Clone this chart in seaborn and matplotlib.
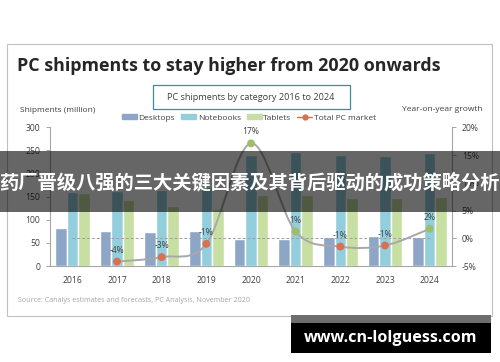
import pandas as pd
import seaborn as sns
import matplotlib.pyplot as plt
from matplotlib.patches import Rectangle, Patch
from matplotlib.lines import Line2D
from matplotlib.path import Path
from matplotlib.patches import PathPatch

# data
years = ['2016', '2017', '2018', '2019', '2020', '2021', '2022', '2023', '2024']
desktops = [82, 76, 74, 76, 58, 58, 62, 64, 63]
notebooks = [160, 162, 165, 170, 240, 247, 240, 237, 244]
tablets = [158, 143, 130, 123, 154, 154, 147, 147, 150]
growth_years = ['2017', '2018', '2019', '2020', '2021', '2022', '2023', '2024']
growth = [-4.2, -3.4, -1.0, 17.1, 1.2, -1.5, -1.3, 1.7]
growth_labels = ['-4%', '-3%', '-1%', '17%', '1%', '-1%', '-1%', '2%']
left_ticks = [0, 50, 100, 150, 200, 250, 300]
right_ticks = [-5, 0, 5, 10, 15, 20]

colors = {'Desktops': '#8DA6C7', 'Notebooks': '#93CEDD', 'Tablets': '#C7DFA3'}
neg_col = '#D9704F'
pos_col = '#9DBD68'
line_col = '#A8A8A8'
txt_col = '#404040'

df = pd.DataFrame({
    'year': years * 3,
    'category': ['Desktops'] * 9 + ['Notebooks'] * 9 + ['Tablets'] * 9,
    'value': desktops + notebooks + tablets,
})

sns.set_style('white')
plt.rcParams['font.family'] = ['Open Sans', 'DejaVu Sans']
plt.rcParams['axes.unicode_minus'] = False

fig = plt.figure(figsize=(5, 3.62), dpi=100)
ax = fig.add_axes([0.1, 1 - 266 / 362, 0.804, (266 - 127.3) / 362])

sns.barplot(data=df, x='year', y='value', hue='category', order=years,
            palette=colors, width=0.77, saturation=1, ax=ax, legend=False)
ax.set_ylim(0, 300)
ax.set_yticks(left_ticks)
ax.set_xlabel('')
ax.set_ylabel('')
for s in ['top', 'right']:
    ax.spines[s].set_visible(False)
for s in ['left', 'bottom']:
    ax.spines[s].set_color('#A6A6A6')
    ax.spines[s].set_linewidth(0.8)
ax.tick_params(axis='y', length=3, width=0.7, color='#A6A6A6', labelsize=6.2, labelcolor=txt_col, pad=4)
ax.tick_params(axis='x', length=0, labelsize=6.2, labelcolor=txt_col, pad=7)
ax.set_xlim(-0.5, len(years) - 0.5)

# growth line on the right axis
ax2 = ax.twinx()
ax2.set_ylim(-5, 20)
ax2.set_yticks(right_ticks)
ax2.set_yticklabels([f'{t}%' for t in right_ticks])
for s in ['top', 'left', 'bottom']:
    ax2.spines[s].set_visible(False)
ax2.spines['right'].set_color('#A6A6A6')
ax2.spines['right'].set_linewidth(0.8)
ax2.tick_params(axis='y', length=3, width=0.7, color='#A6A6A6', labelsize=6.2, labelcolor=txt_col, pad=4)

ax2.hlines(0, 0, len(years) - 1, colors='#A0A0A0', linestyles=(0, (3, 2)), lw=0.7, zorder=2)

gx = [years.index(y) for y in growth_years]
# smooth curve through the points (Catmull-Rom -> bezier)
verts = [(gx[0], growth[0])]
codes = [Path.MOVETO]
n = len(gx)
for i in range(n - 1):
    p0 = (gx[i - 1], growth[i - 1]) if i > 0 else (gx[i], growth[i])
    p1 = (gx[i], growth[i])
    p2 = (gx[i + 1], growth[i + 1])
    p3 = (gx[i + 2], growth[i + 2]) if i + 2 < n else p2
    c1 = (p1[0] + (p2[0] - p0[0]) / 6, p1[1] + (p2[1] - p0[1]) / 6)
    c2 = (p2[0] - (p3[0] - p1[0]) / 6, p2[1] - (p3[1] - p1[1]) / 6)
    verts += [c1, c2, p2]
    codes += [Path.CURVE4] * 3
ax2.add_patch(PathPatch(Path(verts, codes), fill=False, edgecolor=line_col, lw=1.4, zorder=3))

gdf = pd.DataFrame({'x': gx, 'g': growth, 'sign': ['pos' if v > 0 else 'neg' for v in growth]})
sns.scatterplot(data=gdf, x='x', y='g', hue='sign', palette={'pos': pos_col, 'neg': neg_col},
                s=32, edgecolor='none', ax=ax2, legend=False, zorder=4)
ax2.set_xlabel('')
ax2.set_ylabel('')
for x, v, lab in zip(gx, growth, growth_labels):
    ax2.annotate(lab, (x, v), xytext=(0, 5), textcoords='offset points',
                 ha='center', va='bottom', fontsize=6.2, color=txt_col, zorder=5)

# frame and texts
fig.patches.append(Rectangle((7 / 500, 1 - 316 / 362), 485 / 500, 272 / 362, transform=fig.transFigure,
                             fill=False, edgecolor='#C0C0C0', lw=0.8, zorder=0))
fig.text(17 / 500, 1 - 66 / 362, 'PC shipments to stay higher from 2020 onwards',
         fontsize=12.9, fontweight='bold', color='#262626', va='center', ha='left')
fig.patches.append(Rectangle((153 / 500, 1 - 109 / 362), 197 / 500, 24 / 362, transform=fig.transFigure,
                             fill=False, edgecolor='#3F8C95', lw=0.9))
fig.text(251 / 500, 1 - 97 / 362, 'PC shipments by category 2016 to 2024',
         fontsize=6.6, color=txt_col, va='center', ha='center')
fig.text(20 / 500, 1 - 110 / 362, 'Shipments (million)', fontsize=6, color=txt_col, va='center', ha='left')
fig.text(482 / 500, 1 - 109 / 362, 'Year-on-year growth', fontsize=6, color=txt_col, va='center', ha='right')
fig.text(18 / 500, 1 - 301 / 362, 'Source: Canalys estimates and forecasts, PC Analysis, November 2020',
         fontsize=5.1, color='#A6A6A6', va='center', ha='left')

handles = [Patch(color=colors['Desktops'], label='Desktops'),
           Patch(color=colors['Notebooks'], label='Notebooks'),
           Patch(color=colors['Tablets'], label='Tablets'),
           Line2D([0], [0], color=neg_col, lw=1, marker='o', markersize=3.5, label='Total PC market')]
fig.legend(handles=handles, loc='center', bbox_to_anchor=(249 / 500, 1 - 118 / 362), ncol=4,
           frameon=False, fontsize=6, handlelength=1.8, handleheight=0.6, handletextpad=0.2,
           columnspacing=0.7, labelcolor=txt_col)

# dark banner overlay
fig.patches.append(Rectangle((0, 1 - 212 / 362), 1, 61 / 362, transform=fig.transFigure,
                             color='black', alpha=0.6, lw=0, zorder=10))
fig.text(0.5, 1 - 183 / 362, '药厂晋级八强的三大关键因素及其背后驱动的成功策略分析',
         fontsize=13.9, fontweight='bold', color='white', va='center', ha='center',
         family=['Noto Sans CJK SC', 'DejaVu Sans'], zorder=11)

# watermark box
fig.patches.append(Rectangle((291 / 500, 1 - 323 / 362), 200 / 500, 8 / 362, transform=fig.transFigure,
                             color='#6E6E6E', lw=0, zorder=10))
fig.patches.append(Rectangle((291 / 500, 1 - 353 / 362), 200 / 500, 30 / 362, transform=fig.transFigure,
                             color='black', lw=0, zorder=10))
fig.text(391 / 500, 1 - 338 / 362, 'www.cn-lolguess.com', fontsize=11.6, fontweight='bold',
         color='white', va='center', ha='center', zorder=11)

plt.savefig('out.png', dpi=100)
plt.close()
